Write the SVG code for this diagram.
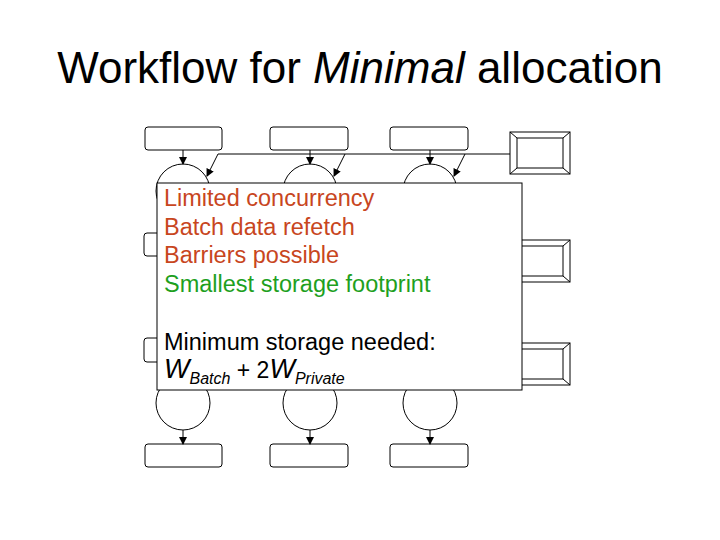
<svg xmlns="http://www.w3.org/2000/svg" width="720" height="540" viewBox="0 0 720 540">
<defs><marker id="a" markerWidth="8" markerHeight="8" refX="7" refY="4" orient="auto" markerUnits="userSpaceOnUse"><path d="M0,0 L8,4 L0,8 z" fill="#000"/></marker></defs>
<style>.b{fill:#fff;stroke:#000;stroke-width:1}.c{stroke:#000;stroke-width:1;fill:none}text{font-family:"Liberation Sans",Arial,sans-serif}</style>
<rect width="720" height="540" fill="#fff"/>
<text x="360" y="83" font-size="44" text-anchor="middle">Workflow for <tspan font-style="italic">Minimal</tspan> allocation</text>
<g id="nodes">
<g id="t1"><rect class="b" x="145" y="127" width="77" height="23" rx="3"/></g>
<g id="t2"><rect class="b" x="270" y="127" width="78" height="23" rx="3"/></g>
<g id="t3"><rect class="b" x="390" y="127" width="78" height="23" rx="3"/></g>
<g id="batch"><rect class="b" x="510" y="132" width="60" height="42"/><rect class="b" x="517" y="138" width="46" height="30"/><path class="c" d="M510,132L517,138M570,132L563,138M510,174L517,168M570,174L563,168"/></g>
<g id="c1"><circle class="b" cx="183" cy="191" r="27"/></g>
<g id="c2"><circle class="b" cx="310" cy="191" r="27"/></g>
<g id="c3"><circle class="b" cx="430" cy="191" r="27"/></g>
<g id="l1"><rect class="b" x="144" y="233" width="20" height="23" rx="3"/></g>
<g id="l2"><rect class="b" x="144" y="338" width="20" height="24" rx="3"/></g>
<g id="p1"><rect class="b" x="510" y="240" width="60" height="42"/><rect class="b" x="517" y="246" width="46" height="30"/><path class="c" d="M570,240L563,246M570,282L563,276"/></g>
<g id="p2"><rect class="b" x="510" y="343" width="60" height="42"/><rect class="b" x="517" y="349" width="46" height="30"/><path class="c" d="M570,343L563,349M570,385L563,379"/></g>
<g id="d1"><circle class="b" cx="183" cy="403" r="27"/></g>
<g id="d2"><circle class="b" cx="310" cy="403" r="27"/></g>
<g id="d3"><circle class="b" cx="430" cy="403" r="27"/></g>
<g id="b1"><rect class="b" x="145" y="444" width="77" height="23" rx="3"/></g>
<g id="b2"><rect class="b" x="270" y="444" width="78" height="23" rx="3"/></g>
<g id="b3"><rect class="b" x="390" y="444" width="78" height="23" rx="3"/></g>
</g>
<g id="connectors" class="c">
<path class="c" d="M510,154H218"/>
<path class="c" d="M183,150V164" marker-end="url(#a)"/>
<path class="c" d="M310,150V164" marker-end="url(#a)"/>
<path class="c" d="M430,150V164" marker-end="url(#a)"/>
<path class="c" d="M218,154L207,176" marker-end="url(#a)"/>
<path class="c" d="M345,154L334,176" marker-end="url(#a)"/>
<path class="c" d="M465,154L454,176" marker-end="url(#a)"/>
<path class="c" d="M183,430V444" marker-end="url(#a)"/>
<path class="c" d="M310,430V444" marker-end="url(#a)"/>
<path class="c" d="M430,430V444" marker-end="url(#a)"/>
</g>
<g id="note">
<rect x="157" y="183" width="365" height="207" fill="#fff" stroke="#000"/>
<g font-size="23">
<text x="164" y="206" fill="#c8461e" font-size="23.5">Limited concurrency</text>
<text x="164" y="235" fill="#c8461e" font-size="23.5">Batch data refetch</text>
<text x="164" y="263" fill="#c8461e" font-size="23.5">Barriers possible</text>
<text x="164" y="292" fill="#1ea01e" font-size="23.5">Smallest storage footprint</text>
<text x="164" y="350" font-size="23.5">Minimum storage needed:</text>
<text x="164" y="378"><tspan font-style="italic" font-size="27">W</tspan><tspan font-style="italic" font-size="16" dy="6">Batch</tspan><tspan dy="-6"> + 2</tspan><tspan font-style="italic" font-size="27">W</tspan><tspan font-style="italic" font-size="16" dy="6">Private</tspan></text>
</g>
</g>
</svg>
